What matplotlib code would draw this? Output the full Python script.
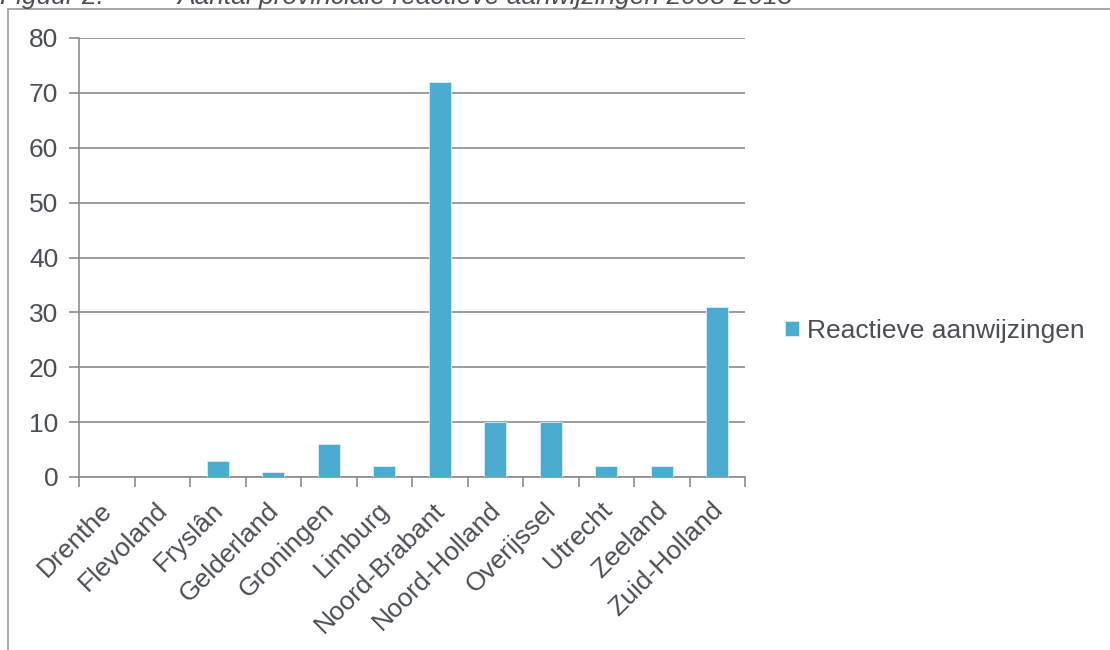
import matplotlib
matplotlib.use("Agg")
import matplotlib.pyplot as plt
import matplotlib.transforms as mtransforms
from matplotlib.patches import Rectangle

# provinces and number of reactive instructions 2008-2013
provinces = [
    "Drenthe", "Flevoland", "Fryslân", "Gelderland", "Groningen", "Limburg",
    "Noord-Brabant", "Noord-Holland", "Overijssel", "Utrecht", "Zeeland",
    "Zuid-Holland",
]
counts = [0, 0, 3, 1, 6, 2, 72, 10, 10, 2, 2, 31]
y_ticks = [0, 10, 20, 30, 40, 50, 60, 70, 80]

BAR_COLOR  = "#4BACD0"
GRID_COLOR = "#8C8C8C"
TEXT_COLOR = "#4A4F55"
FS = 19

plt.rcParams["font.family"] = ["Liberation Sans", "DejaVu Sans"]

fig = plt.figure(figsize=(11.1, 6.5), dpi=100)

# caption, partly cut off by the top edge
fig.text(0.0, 1 - 4 / 650, "Figuur 2:", fontsize=FS, style="italic",
         color=TEXT_COLOR, va="baseline")
fig.text(177 / 1110, 1 - 4 / 650,
         "Aantal provinciale reactieve aanwijzingen 2008-2013",
         fontsize=FS, style="italic", color=TEXT_COLOR, va="baseline")

# chart frame
fig.patches.append(Rectangle((8 / 1110, -0.1), 1.2, 1.1 - 9 / 650,
                             transform=fig.transFigure, fill=False,
                             edgecolor="#9A9A9A", linewidth=1.2))

ax = fig.add_axes([79 / 1110, 1 - 477 / 650, 666 / 1110, 439 / 650])
x = range(len(provinces))
ax.bar(x, counts, width=0.4, color=BAR_COLOR, edgecolor="#DDEFF6",
       linewidth=0.6, label="Reactieve aanwijzingen", zorder=3)

ax.set_xlim(-0.5, len(provinces) - 0.5)
ax.set_ylim(0, 80)
ax.set_yticks(y_ticks)
ax.yaxis.grid(True, color=GRID_COLOR, linewidth=1.2, zorder=0)

# category boundaries carry the x tick marks, labels sit under the bars
ax.set_xticks([i - 0.5 for i in range(len(provinces) + 1)])
ax.set_xticklabels([])
ax.set_xticks(list(x), minor=True)
ax.set_xticklabels(provinces, minor=True, rotation=45, ha="right",
                   rotation_mode="anchor", fontsize=FS, color=TEXT_COLOR)
ax.tick_params(axis="x", which="major", length=7, width=1.2, color=GRID_COLOR)
ax.tick_params(axis="x", which="minor", length=0, pad=15)
ax.tick_params(axis="y", length=7, width=1.2, color=GRID_COLOR,
               labelsize=FS, labelcolor=TEXT_COLOR, pad=8)

# nudge the slanted labels a little to the left
shift = mtransforms.ScaledTranslation(-5 / 72, 0, fig.dpi_scale_trans)
for lbl in ax.get_xticklabels(minor=True):
    lbl.set_transform(lbl.get_transform() + shift)

for side in ("top", "right"):
    ax.spines[side].set_visible(False)
for side in ("left", "bottom"):
    ax.spines[side].set_color(GRID_COLOR)
    ax.spines[side].set_linewidth(1.2)

ax.legend(loc="center left", bbox_to_anchor=(1.025, 0.333), frameon=False,
          fontsize=FS, handlelength=0.5, handleheight=0.5, handletextpad=0.3,
          labelcolor=TEXT_COLOR)

fig.savefig("out.png", dpi=100)
